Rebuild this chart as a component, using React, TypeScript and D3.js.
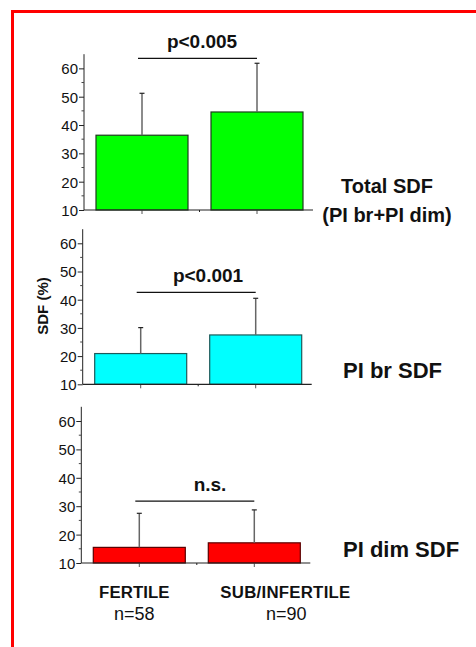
import { useEffect, useRef } from "react";
import * as d3 from "d3";

// groups and their sizes
const categories = ["FERTILE", "SUB/INFERTILE"];
const sampleSizes = ["n=58", "n=90"];
const yTicks = [10, 20, 30, 40, 50, 60];
const minorTicks = [15, 25, 35, 45, 55];

// mean SDF (%) and SD
const totalMeans = [36.4, 44.6];
const totalSD = [14.8, 17.2];
const brMeans = [20.9, 27.5];
const brSD = [9.2, 13.0];
const dimMeans = [15.5, 17.1];
const dimSD = [12.0, 11.6];

// significance brackets
const sigLabels = ["p<0.005", "p<0.001", "n.s."];
const sigLevels = [63.5, 42.6, 31.8];

const panelTitles = [["Total SDF", "(PI br+PI dim)"], ["PI br SDF"], ["PI dim SDF"]];

const FONT = "'Liberation Sans', Arial, Helvetica, sans-serif";

export default function App() {
  const ref = useRef<SVGSVGElement>(null);

  useEffect(() => {
    const svg = d3.select(ref.current);
    svg.selectAll("*").remove();

    // outer red frame (runs off the bottom/right of the picture)
    svg.append("rect")
      .attr("x", 12.5).attr("y", 11.5)
      .attr("width", 600).attr("height", 800)
      .attr("fill", "none")
      .attr("stroke", "#ff0000")
      .attr("stroke-width", 3);

    const panels = [
      { means: totalMeans, sd: totalSD, fill: "#00ff00", stroke: "#1e3a1e", top: 54.2, bottom: 210, ax: 84, sigX: 202 },
      { means: brMeans, sd: brSD, fill: "#00ffff", stroke: "#1d5a5a", top: 229.2, bottom: 384.3, ax: 82.7, sigX: 208 },
      { means: dimMeans, sd: dimSD, fill: "#ff0000", stroke: "#5a0000", top: 406.8, bottom: 563, ax: 81.3, sigX: 210 },
    ];

    panels.forEach((p, pi) => {
      const y = d3.scaleLinear().domain([10, 65]).range([p.bottom, p.top]);
      const x = d3.scaleBand<string>()
        .domain(categories)
        .range([p.ax + 0.5, p.ax + 230.5])
        .paddingInner(0.2)
        .paddingOuter(0.1);
      const bw = x.bandwidth();
      const g = svg.append("g");

      // bars
      g.selectAll("rect.bar")
        .data(p.means)
        .enter().append("rect")
        .attr("class", "bar")
        .attr("x", (d, i) => x(categories[i])!)
        .attr("y", d => y(d))
        .attr("width", bw)
        .attr("height", d => y(10) - y(d))
        .attr("fill", p.fill)
        .attr("stroke", p.stroke)
        .attr("stroke-width", 1.2);

      // error bars (upper only)
      p.means.forEach((m, i) => {
        const cx = x(categories[i])! + bw / 2;
        g.append("line")
          .attr("x1", cx).attr("x2", cx)
          .attr("y1", y(m)).attr("y2", y(m + p.sd[i]))
          .attr("stroke", "#666").attr("stroke-width", 1.5);
        g.append("line")
          .attr("x1", cx - 2.5).attr("x2", cx + 2.5)
          .attr("y1", y(m + p.sd[i])).attr("y2", y(m + p.sd[i]))
          .attr("stroke", "#222").attr("stroke-width", 1.2);
        // category tick
        g.append("line")
          .attr("x1", cx).attr("x2", cx)
          .attr("y1", y(10)).attr("y2", y(10) + 4)
          .attr("stroke", "#555").attr("stroke-width", 1);
      });

      // y axis
      const yAxis = d3.axisLeft(y).tickValues(yTicks).tickSize(5).tickPadding(1).tickFormat(d3.format("d"));
      const ag = g.append("g")
        .attr("transform", `translate(${p.ax},0)`)
        .call(yAxis);
      ag.select(".domain").attr("stroke", "#222").attr("d", `M0,${y(65)}V${y(10)}`);
      ag.selectAll(".tick line").attr("stroke", "#222");
      ag.selectAll(".tick text")
        .attr("font-family", FONT)
        .attr("font-size", 15)
        .attr("fill", "#111")
        .attr("dy", "0.36em");
      minorTicks.forEach(t => {
        g.append("line")
          .attr("x1", p.ax - 2.5).attr("x2", p.ax)
          .attr("y1", y(t)).attr("y2", y(t))
          .attr("stroke", "#444");
      });

      // x axis line
      g.append("line")
        .attr("x1", p.ax).attr("x2", p.ax + 229)
        .attr("y1", y(10)).attr("y2", y(10))
        .attr("stroke", "#222").attr("stroke-width", 1.2);
      const mid = p.ax + 0.5 + x.step();
      g.append("line")
        .attr("x1", mid).attr("x2", mid)
        .attr("y1", y(10)).attr("y2", y(10) + 2)
        .attr("stroke", "#222");

      // significance bracket
      const x0 = x(categories[0])! + bw / 2 - 4;
      const x1 = x(categories[1])! + bw / 2;
      g.append("line")
        .attr("x1", x0).attr("x2", x1)
        .attr("y1", y(sigLevels[pi])).attr("y2", y(sigLevels[pi]))
        .attr("stroke", "#111").attr("stroke-width", 1.2);
      g.append("text")
        .attr("x", p.sigX)
        .attr("y", y(sigLevels[pi]) - 10)
        .attr("text-anchor", "middle")
        .attr("font-family", FONT)
        .attr("font-weight", "bold")
        .attr("font-size", 19)
        .attr("fill", "#111")
        .text(sigLabels[pi]);

      // right-hand panel title
      const titles = panelTitles[pi];
      if (titles.length > 1) {
        g.append("text")
          .attr("x", 387).attr("y", y(10) - 17)
          .attr("text-anchor", "middle")
          .attr("font-family", FONT).attr("font-weight", "bold")
          .attr("font-size", 20).attr("fill", "#111")
          .text(titles[0]);
        g.append("text")
          .attr("x", 387).attr("y", y(10) + 11.7)
          .attr("text-anchor", "middle")
          .attr("font-family", FONT).attr("font-weight", "bold")
          .attr("font-size", 20).attr("fill", "#111")
          .text(titles[1]);
      } else {
        g.append("text")
          .attr("x", 343).attr("y", y(10) - 6)
          .attr("font-family", FONT).attr("font-weight", "bold")
          .attr("font-size", 22).attr("fill", "#111")
          .text(titles[0]);
      }

      // category labels under last panel
      if (pi === panels.length - 1) {
        const labelShift = [-5, 31];
        categories.forEach((c, i) => {
          const cx = x(c)! + bw / 2 + labelShift[i];
          g.append("text")
            .attr("x", cx).attr("y", y(10) + 34.5)
            .attr("text-anchor", "middle")
            .attr("font-family", FONT).attr("font-weight", "bold")
            .attr("font-size", 16.8).attr("fill", "#111")
            .attr("textLength", i === 0 ? 70.5 : 130)
            .text(c);
          g.append("text")
            .attr("x", cx + (i === 0 ? 0 : 1)).attr("y", y(10) + 57)
            .attr("text-anchor", "middle")
            .attr("font-family", FONT)
            .attr("font-size", 18).attr("fill", "#111")
            .text(sampleSizes[i]);
        });
      }
    });

    // shared y label
    svg.append("text")
      .attr("transform", "translate(48,306) rotate(-90)")
      .attr("text-anchor", "middle")
      .attr("font-family", FONT)
      .attr("font-weight", "bold")
      .attr("font-size", 15)
      .attr("fill", "#111")
      .text("SDF (%)");
  }, []);

  return (
    <svg
      ref={ref}
      width={476}
      height={647}
      style={{ position: "absolute", left: 0, top: 0, background: "#fff" }}
    />
  );
}
